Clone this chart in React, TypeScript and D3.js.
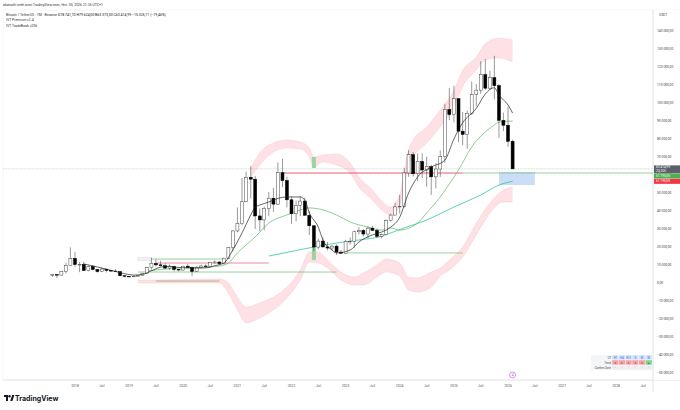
import React from "react"
import * as d3 from "d3"

const W = 680
const H = 410

// monthly candles, BTC/USDT Binance: [month, open, high, low, close]
const candles: [string, number, number, number, number][] = [
  ["2017-08", 4261, 4745, 3400, 4724],
  ["2017-09", 4690, 4939, 2817, 4379],
  ["2017-10", 4379, 6470, 4110, 6464],
  ["2017-11", 6464, 11300, 5325, 9838],
  ["2017-12", 9838, 19798, 9800, 13716],
  ["2018-01", 13716, 17176, 9035, 10285],
  ["2018-02", 10285, 11786, 6000, 10326],
  ["2018-03", 10326, 11710, 6600, 6924],
  ["2018-04", 6922, 9760, 6430, 9247],
  ["2018-05", 9247, 10020, 7032, 7495],
  ["2018-06", 7501, 7760, 5750, 6391],
  ["2018-07", 6391, 8507, 6070, 7730],
  ["2018-08", 7735, 7750, 5880, 7011],
  ["2018-09", 7011, 7410, 6111, 6626],
  ["2018-10", 6626, 7680, 6200, 6370],
  ["2018-11", 6370, 6615, 3652, 4041],
  ["2018-12", 4041, 4313, 3156, 3702],
  ["2019-01", 3702, 3810, 3349, 3434],
  ["2019-02", 3434, 4198, 3373, 3814],
  ["2019-03", 3814, 4140, 3670, 4103],
  ["2019-04", 4103, 5600, 4067, 5321],
  ["2019-05", 5321, 9074, 5316, 8555],
  ["2019-06", 8555, 13970, 7444, 10855],
  ["2019-07", 10855, 13147, 9070, 10085],
  ["2019-08", 10085, 12325, 9320, 9590],
  ["2019-09", 9590, 10905, 7710, 8294],
  ["2019-10", 8294, 10370, 7300, 9200],
  ["2019-11", 9200, 9509, 6515, 7547],
  ["2019-12", 7547, 7750, 6435, 7196],
  ["2020-01", 7196, 9578, 6871, 9352],
  ["2020-02", 9352, 10500, 8445, 8600],
  ["2020-03", 8600, 9188, 3782, 6410],
  ["2020-04", 6412, 9460, 6150, 8620],
  ["2020-05", 8620, 10080, 8106, 9448],
  ["2020-06", 9448, 10380, 8833, 9138],
  ["2020-07", 9138, 11444, 8893, 11335],
  ["2020-08", 11335, 12486, 10518, 11650],
  ["2020-09", 11650, 12050, 9825, 10776],
  ["2020-10", 10776, 14100, 10374, 13791],
  ["2020-11", 13791, 19863, 13195, 19695],
  ["2020-12", 19695, 29300, 17572, 28923],
  ["2021-01", 28923, 41950, 28130, 33092],
  ["2021-02", 33092, 58352, 32296, 45135],
  ["2021-03", 45135, 61844, 44950, 58740],
  ["2021-04", 58740, 64854, 47044, 57694],
  ["2021-05", 57694, 59500, 30000, 37254],
  ["2021-06", 37254, 41330, 28805, 35045],
  ["2021-07", 35045, 42448, 29278, 41462],
  ["2021-08", 41462, 50500, 37332, 47101],
  ["2021-09", 47101, 52920, 39600, 43824],
  ["2021-10", 43824, 67000, 43283, 61300],
  ["2021-11", 61300, 69000, 53256, 56951],
  ["2021-12", 56951, 59053, 42000, 46216],
  ["2022-01", 46216, 47990, 32917, 38466],
  ["2022-02", 38466, 45821, 34322, 43160],
  ["2022-03", 43160, 48189, 37155, 45510],
  ["2022-04", 45510, 47444, 37578, 37630],
  ["2022-05", 37630, 40023, 26700, 31801],
  ["2022-06", 31801, 31986, 17622, 19942],
  ["2022-07", 19942, 24668, 18782, 23293],
  ["2022-08", 23296, 25211, 19520, 20050],
  ["2022-09", 20050, 22799, 18125, 19423],
  ["2022-10", 19423, 21085, 18190, 20491],
  ["2022-11", 20491, 21480, 15476, 17164],
  ["2022-12", 17165, 18387, 16256, 16542],
  ["2023-01", 16542, 23960, 16499, 23125],
  ["2023-02", 23125, 25250, 21351, 23142],
  ["2023-03", 23142, 29184, 19549, 28466],
  ["2023-04", 28466, 31000, 26942, 29234],
  ["2023-05", 29234, 29820, 25811, 27211],
  ["2023-06", 27211, 31431, 24800, 30472],
  ["2023-07", 30472, 31804, 28861, 29232],
  ["2023-08", 29232, 30244, 25166, 25941],
  ["2023-09", 25941, 27483, 24901, 26963],
  ["2023-10", 26963, 35280, 26538, 34640],
  ["2023-11", 34640, 38450, 34097, 37724],
  ["2023-12", 37724, 44700, 37615, 42284],
  ["2024-01", 42284, 48969, 38555, 42580],
  ["2024-02", 42580, 64000, 41884, 61131],
  ["2024-03", 61131, 73777, 59005, 71280],
  ["2024-04", 71280, 72797, 59191, 60672],
  ["2024-05", 60672, 71979, 56552, 67540],
  ["2024-06", 67540, 71997, 58402, 62773],
  ["2024-07", 62773, 70079, 53485, 64628],
  ["2024-08", 64628, 65660, 49000, 58974],
  ["2024-09", 58974, 66498, 52550, 63328],
  ["2024-10", 63328, 73620, 58895, 70215],
  ["2024-11", 70215, 99588, 66835, 96408],
  ["2024-12", 96408, 108353, 90500, 93576],
  ["2025-01", 93576, 109588, 89256, 102430],
  ["2025-02", 102430, 102500, 78258, 84350],
  ["2025-03", 84350, 95000, 76606, 82550],
  ["2025-04", 82550, 95758, 74508, 94172],
  ["2025-05", 94172, 111980, 93377, 104591],
  ["2025-06", 104591, 110530, 98200, 107135],
  ["2025-07", 107135, 123218, 105100, 115764],
  ["2025-08", 115764, 124474, 107350, 108246],
  ["2025-09", 108246, 117900, 107255, 114049],
  ["2025-10", 114049, 126200, 102000, 109608],
  ["2025-11", 109608, 110600, 80600, 90360],
  ["2025-12", 90360, 94600, 84400, 87648],
  ["2026-01", 87648, 97900, 75700, 78741],
  ["2026-02", 78741.1, 79624, 63373, 63414.99],
]

// indicator lines: [month, value]
const fastMA: [string, number][] = [
  ["2018-03", 10600], ["2018-06", 8900], ["2018-09", 7000], ["2018-12", 5200],
  ["2019-02", 4400], ["2019-04", 4800], ["2019-06", 6800], ["2019-08", 8800],
  ["2019-10", 9300], ["2019-12", 8600], ["2020-02", 8400], ["2020-04", 8300],
  ["2020-06", 8400], ["2020-08", 9600], ["2020-10", 11100], ["2020-12", 18300],
  ["2021-02", 27800], ["2021-04", 37800], ["2021-05", 42200], ["2021-06", 43300],
  ["2021-08", 45000], ["2021-10", 47000], ["2021-12", 47800], ["2022-03", 47800],
  ["2022-04", 46000], ["2022-05", 39000], ["2022-07", 31000], ["2022-08", 24000],
  ["2022-10", 18300], ["2022-11", 16700], ["2023-02", 18300], ["2023-04", 22800],
  ["2023-07", 26700], ["2023-09", 28300], ["2023-11", 31000], ["2024-01", 36500],
  ["2024-03", 50000], ["2024-05", 58900], ["2024-08", 64400], ["2024-11", 68300],
  ["2025-01", 80000], ["2025-03", 89000], ["2025-06", 97000], ["2025-08", 105000],
  ["2025-10", 108500], ["2025-11", 104400], ["2026-01", 98900], ["2026-02", 94400],
]

const slowMA: [string, number][] = [
  ["2019-05", 6700], ["2019-12", 8300], ["2020-07", 8900], ["2020-09", 9400],
  ["2020-11", 11100], ["2021-01", 16700], ["2021-05", 25600], ["2021-08", 33300],
  ["2021-12", 37800], ["2022-03", 40600], ["2022-05", 41700], ["2022-08", 40600],
  ["2022-11", 37800], ["2023-02", 33900], ["2023-06", 31100], ["2023-09", 29400],
  ["2023-11", 30600], ["2024-01", 29400], ["2024-05", 33300], ["2024-07", 38900],
  ["2024-10", 47800], ["2025-01", 58900], ["2025-02", 62800], ["2025-05", 75600],
  ["2025-08", 83900], ["2025-10", 87800], ["2025-11", 89400], ["2026-02", 90000],
]

const trendLine: [string, number][] = [
  ["2021-08", 15000], ["2021-12", 17000], ["2022-06", 20000], ["2022-11", 22200],
  ["2023-04", 23900], ["2023-09", 26000], ["2023-11", 27800], ["2024-02", 30600],
  ["2024-07", 35000], ["2025-01", 42200], ["2025-07", 48900], ["2025-11", 54400],
  ["2026-02", 56500],
]

// envelope ribbons: [month, top, bottom]
const upperBand: [string, number, number][] = [
  ["2021-04", 63900, 58900], ["2021-06", 72200, 65600], ["2021-09", 77800, 72800],
  ["2021-12", 79400, 75000], ["2022-03", 78300, 74400], ["2022-05", 75000, 70000],
  ["2022-06", 70000, 64400], ["2022-08", 71100, 67200], ["2022-11", 71700, 65600],
  ["2023-02", 66700, 61100], ["2023-04", 58900, 53300], ["2023-07", 51700, 46100],
  ["2023-09", 45600, 40600], ["2023-11", 42200, 37800], ["2024-01", 48900, 43300],
  ["2024-02", 62000, 54000], ["2024-03", 74000, 65000], ["2024-04", 79400, 70000],
  ["2024-07", 86700, 77800], ["2024-10", 96100, 86700], ["2025-01", 107000, 97800],
  ["2025-03", 118000, 109000], ["2025-06", 125600, 118300], ["2025-08", 133000, 124000],
  ["2025-11", 136000, 125000], ["2026-02", 135000, 122800],
]

const lowerBand: [string, number, number][] = [
  ["2019-03", 1700, 0], ["2019-07", 1700, 0], ["2020-09", 2200, 0],
  ["2020-11", 0, -5600], ["2021-01", -7800, -15000], ["2021-03", -13300, -22200],
  ["2021-06", -11100, -19400], ["2021-09", -7800, -15000], ["2021-12", -2200, -8300],
  ["2022-03", 7200, 1700], ["2022-05", 17200, 11700], ["2022-07", 17200, 11100],
  ["2022-09", 12800, 8300], ["2022-12", 6100, 1700], ["2023-03", 3300, -1100],
  ["2023-05", 5600, -1100], ["2023-08", 10000, 3300], ["2023-10", 13300, 6100],
  ["2024-01", 11100, 3900], ["2024-03", 3300, -3900], ["2024-05", 2800, -5000],
  ["2024-08", 6100, -2200], ["2024-10", 8300, 3900], ["2024-12", 12800, 7200],
  ["2025-03", 20000, 14400], ["2025-06", 33300, 26700], ["2025-09", 44400, 38900],
  ["2025-12", 51700, 45000], ["2026-02", 53300, 45000],
]

// signal month marked on both ribbons
const signalMonth = "2022-06"
const signalUpper: [number, number] = [70000, 63900]
const signalLower: [number, number] = [19400, 12800]

// horizontal levels: [from, to, value]
const redLevels: [string, string, number][] = [["2021-11", "2025-03", 61100]]
const greenLevels: [string, string, number][] = [
  ["2025-03", "2028-12", 61100],
  ["2023-01", "2025-03", 16700],
  ["2019-03", "2022-11", 6100],
  ["2019-04", "2020-10", 13300],
]
const pinkLevels: [string, string, number][] = [["2019-07", "2021-08", 11100]]
const oliveLevels: [string, string, number][] = [["2019-07", "2020-09", 1100]]

const targetZone = { from: "2025-11", to: "2026-07", top: 61700, bottom: 54400 }

const lastPrice = 63414.99
const priceTicks = d3.range(-50000, 150000, 10000)

const tableCols = ["H1", "H4", "H12", "D", "W", "M"]
const tableTrend = ["▼", "▼", "▼", "▼", "▼", "▲"]

const parse = (s: string) => {
  const [yy, mm] = s.split("-").map(Number)
  return new Date(yy, mm - 1, 1)
}

const fr = d3.formatLocale({ decimal: ",", thousands: " ", grouping: [3], currency: ["", ""], minus: "−" })
const fmt = fr.format(",.2f")

const FONT = "Roboto, 'Liberation Sans', sans-serif"

export default function App() {
  const x = d3.scaleTime().domain([new Date(2018, 0, 1), new Date(2026, 0, 1)]).range([75, 508])
  const y = d3.scaleLinear().domain([0, 140000]).range([283, 31])

  const plotRight = 653
  const plotTop = 10
  const plotBottom = 380

  const line = d3
    .line<[string, number]>()
    .x((d) => x(parse(d[0])))
    .y((d) => y(d[1]))
    .curve(d3.curveMonotoneX)

  const band = d3
    .area<[string, number, number]>()
    .x((d) => x(parse(d[0])))
    .y0((d) => y(d[2]))
    .y1((d) => y(d[1]))
    .curve(d3.curveMonotoneX)
  const bandTop = d3
    .line<[string, number, number]>()
    .x((d) => x(parse(d[0])))
    .y((d) => y(d[1]))
    .curve(d3.curveMonotoneX)
  const bandBottom = d3
    .line<[string, number, number]>()
    .x((d) => x(parse(d[0])))
    .y((d) => y(d[2]))
    .curve(d3.curveMonotoneX)

  const timeTicks = d3.timeMonth.every(6)!.range(new Date(2018, 0, 1), new Date(2028, 7, 1))

  const level = (segs: [string, string, number][], color: string, w = 0.7) =>
    segs.map(([a, b, v], i) => (
      <line
        key={color + i}
        x1={x(parse(a))}
        x2={Math.min(plotRight, x(parse(b)))}
        y1={y(v)}
        y2={y(v)}
        stroke={color}
        strokeWidth={w}
      />
    ))

  const sx = x(parse(signalMonth))
  const tableX = 591
  const labelW = 21
  const cellW = (plotRight - 1 - tableX - labelW) / tableCols.length
  const rowH = 5
  const tableY = 355

  return (
    <div style={{ width: W, height: H }}>
      <style>{"body{margin:0}"}</style>
      <svg width={W} height={H} style={{ display: "block", background: "#fff", fontFamily: FONT }}>
        <rect width={W} height={H} fill="#fff" />

        {/* header */}
        <text x={3} y={6} fontSize={3.5} fill="#333">
          akatochi créé avec TradingView.com, févr. 05, 2026 21:26 UTC+1
        </text>
        <line x1={3} x2={W} y1={plotTop} y2={plotTop} stroke="#e6e8ee" strokeWidth={0.5} />
        <line x1={3} x2={3} y1={plotTop} y2={plotBottom} stroke="#e6e8ee" strokeWidth={0.5} />
        <text x={6} y={15.5} fontSize={3.5} fill="#333">
          Bitcoin / TetherUS · 1M · Binance{"  "}
          <tspan fill="#111">O78 741,10 H79 624,00 B63 373,00 C63 414,99 −15 326,11 (−19,46%)</tspan>
        </text>
        <text x={6} y={21} fontSize={3.5} fill="#333">IVT Premium v2.4</text>
        <text x={6} y={26.5} fontSize={3.5} fill="#333">IVT TradeBook v206</text>

        {/* ribbons */}
        <path d={band(upperBand) ?? ""} fill="#fde1e4" />
        <path d={bandTop(upperBand) ?? ""} fill="none" stroke="#f8c3c9" strokeWidth={0.4} />
        <path d={bandBottom(upperBand) ?? ""} fill="none" stroke="#f8c3c9" strokeWidth={0.4} />
        <path d={band(lowerBand) ?? ""} fill="#fde1e4" />
        <path d={bandTop(lowerBand) ?? ""} fill="none" stroke="#f8c3c9" strokeWidth={0.4} />
        <path d={bandBottom(lowerBand) ?? ""} fill="none" stroke="#f8c3c9" strokeWidth={0.4} />
        <rect x={sx - 2} width={4} y={y(signalUpper[0])} height={y(signalUpper[1]) - y(signalUpper[0])} fill="#9bd49d" />
        <rect x={sx - 2} width={4} y={y(signalLower[0])} height={y(signalLower[1]) - y(signalLower[0])} fill="#9bd49d" />

        {/* target zone */}
        <rect
          x={x(parse(targetZone.from))}
          width={x(parse(targetZone.to)) - x(parse(targetZone.from))}
          y={y(targetZone.top)}
          height={y(targetZone.bottom) - y(targetZone.top)}
          fill="#c3d7f7"
          opacity={0.85}
        />

        {/* levels */}
        {level(oliveLevels, "#b1b08a", 1)}
        {level(pinkLevels, "#e86f8a", 0.8)}
        {level(greenLevels, "#6cc070", 0.7)}
        {level(redLevels, "#e5475a", 0.9)}
        <rect x={x(parse("2019-03"))} y={y(14300)} width={x(parse("2019-06")) - x(parse("2019-03"))} height={y(12300) - y(14300)} fill="#f1f1f1" stroke="#d8d8d8" strokeWidth={0.4} />

        {/* last price line */}
        <line x1={3} x2={plotRight} y1={y(lastPrice)} y2={y(lastPrice)} stroke="#9aa0aa" strokeWidth={0.5} strokeDasharray="0.8 0.8" />

        {/* moving averages */}
        <path d={line(trendLine) ?? ""} fill="none" stroke="#2fc6a4" strokeWidth={0.8} />
        <path d={line(slowMA) ?? ""} fill="none" stroke="#5cb860" strokeWidth={0.7} />

        {/* candles */}
        {candles.map(([d, o, h, l, c]) => {
          const cx = x(parse(d))
          const up = c >= o
          const top = y(Math.max(o, c))
          const hgt = Math.max(0.6, Math.abs(y(o) - y(c)))
          return (
            <g key={d}>
              <line x1={cx} x2={cx} y1={y(h)} y2={y(l)} stroke="#333" strokeWidth={0.5} />
              <rect x={cx - 1.5} width={3} y={top} height={hgt} fill={up ? "#fff" : "#000"} stroke={up ? "#444" : "#000"} strokeWidth={0.5} />
            </g>
          )
        })}

        <path d={line(fastMA) ?? ""} fill="none" stroke="#222" strokeWidth={0.7} />

        {/* time axis */}
        <line x1={3} x2={W} y1={plotBottom} y2={plotBottom} stroke="#c8ccd4" strokeWidth={0.6} />
        {timeTicks.map((t) => (
          <text key={+t} x={x(t)} y={387} fontSize={3.4} fill="#555" textAnchor="middle">
            {t.getMonth() === 0 ? t.getFullYear() : "Juil"}
          </text>
        ))}
        <circle cx={x(parse("2026-02"))} cy={375} r={3} fill="#fff" stroke="#b05cc8" strokeWidth={0.6} />
        <text x={x(parse("2026-02"))} y={376.3} fontSize={3.4} fill="#b05cc8" textAnchor="middle">4</text>

        {/* table */}
        <rect x={tableX} y={tableY} width={plotRight - 1 - tableX} height={rowH * 3} fill="#f4f5f7" />
        <text x={tableX + labelW - 1} y={tableY + 3.6} fontSize={2.7} fill="#444" textAnchor="end">UT</text>
        <text x={tableX + labelW - 1} y={tableY + rowH + 3.6} fontSize={2.7} fill="#444" textAnchor="end">Trend</text>
        <text x={tableX + labelW - 1} y={tableY + 2 * rowH + 3.6} fontSize={2.7} fill="#444" textAnchor="end">Confirm Zone</text>
        {tableCols.map((c, i) => {
          const cx0 = tableX + labelW + i * cellW
          return (
            <g key={c}>
              <rect x={cx0} y={tableY} width={cellW} height={rowH} fill="#d3e2f8" stroke="#fff" strokeWidth={0.3} />
              <text x={cx0 + cellW / 2} y={tableY + 3.6} fontSize={2.6} fill="#2962ff" textAnchor="middle">{c}</text>
              <rect x={cx0} y={tableY + rowH} width={cellW} height={rowH} fill={tableTrend[i] === "▲" ? "#86d48f" : "#f5a5a8"} stroke="#fff" strokeWidth={0.3} />
              <text x={cx0 + cellW / 2} y={tableY + rowH + 3.7} fontSize={2.8} fill={tableTrend[i] === "▲" ? "#1b7a2b" : "#b3122a"} textAnchor="middle">{tableTrend[i]}</text>
              <rect x={cx0} y={tableY + 2 * rowH} width={cellW} height={rowH} fill="#eceef1" stroke="#fff" strokeWidth={0.3} />
              <text x={cx0 + cellW / 2} y={tableY + 2 * rowH + 3.6} fontSize={2.7} fill="#777" textAnchor="middle">-</text>
            </g>
          )
        })}

        {/* price axis */}
        <rect x={plotRight} y={plotTop} width={W - plotRight} height={plotBottom - plotTop} fill="#fff" />
        <line x1={plotRight} x2={plotRight} y1={plotTop} y2={392} stroke="#c8ccd4" strokeWidth={0.6} />
        <text x={659} y={15.5} fontSize={3.3} fill="#444">USDT</text>
        {priceTicks.map((v) => (
          <text key={v} x={657} y={y(v) + 1.2} fontSize={3.3} fill="#444">
            {fmt(v)}
          </text>
        ))}
        <rect x={654} y={y(lastPrice) - 3.5} width={26} height={8} fill="#5d606b" />
        <text x={656} y={y(lastPrice) - 0.5} fontSize={3.2} fill="#fff">{fmt(lastPrice)}</text>
        <text x={656} y={y(lastPrice) + 3.3} fontSize={3} fill="#fff">22j 02h</text>
        <rect x={654} y={y(lastPrice) + 4.7} width={26} height={5} fill="#4caf50" />
        <text x={656} y={y(lastPrice) + 8.3} fontSize={3.2} fill="#fff">61 795,00</text>
        <rect x={654} y={y(lastPrice) + 10} width={26} height={5} fill="#f23645" />
        <text x={656} y={y(lastPrice) + 13.6} fontSize={3.2} fill="#fff">61 195,00</text>

        {/* logo */}
        <g transform="translate(4,395)">
          <path d="M0 0 H4 V6 H2 V2 H0 Z" fill="#131722" />
          <circle cx={5.5} cy={1.2} r={1.2} fill="#131722" />
          <path d="M6.2 6 L8.2 0 H10.4 L8.4 6 Z" fill="#131722" />
        </g>
        <text x={15} y={401} fontSize={7} fontWeight={700} fill="#131722" fontFamily="Inter, Roboto, sans-serif">
          TradingView
        </text>
      </svg>
    </div>
  )
}
